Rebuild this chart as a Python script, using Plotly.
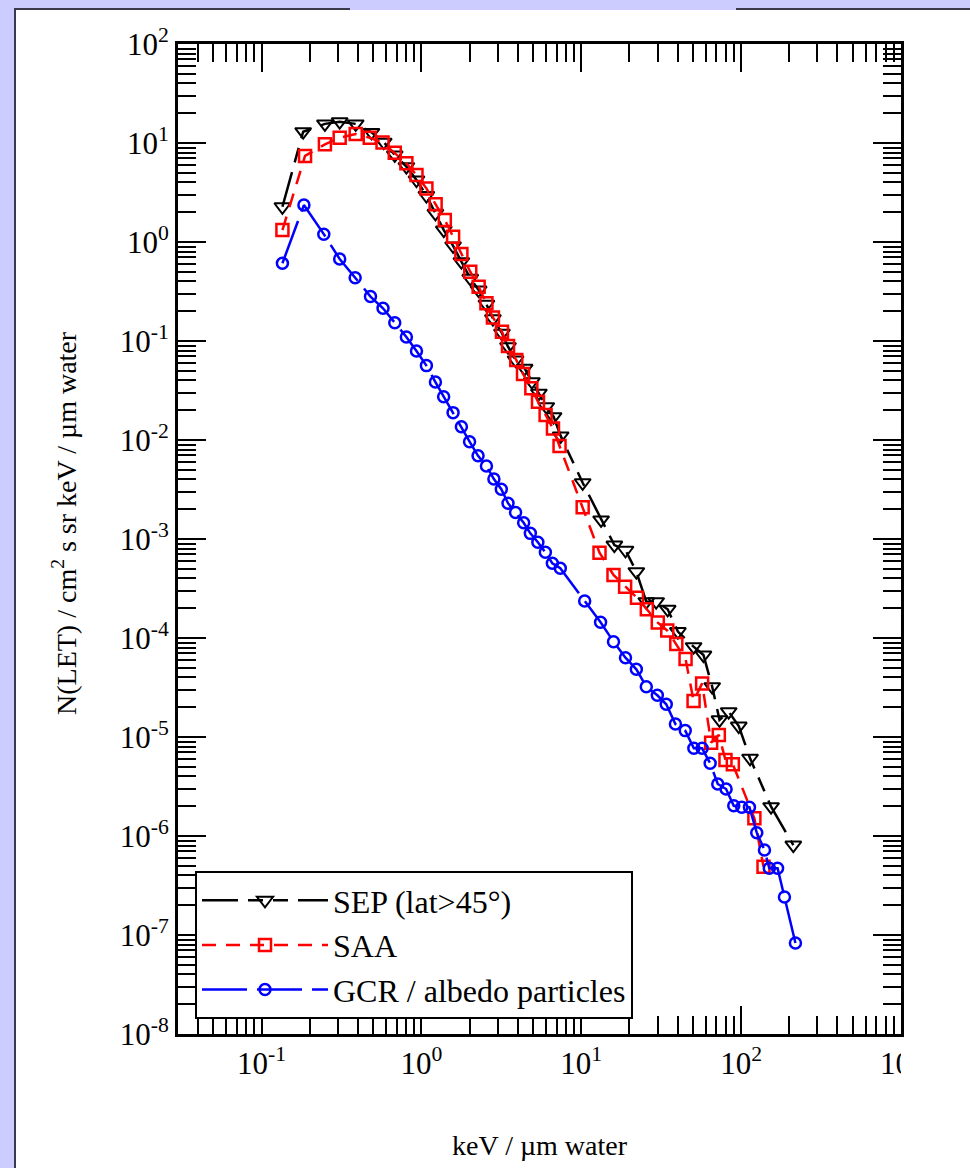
import plotly.graph_objects as go

# ---------------- data ----------------
sep_x = [0.135, 0.182, 0.249, 0.308, 0.388, 0.487, 0.581, 0.681, 0.805, 0.931,
         1.074, 1.223, 1.38, 1.578, 1.778, 2.02, 2.28, 2.55, 2.80, 3.19,
         3.48, 3.88, 4.42, 4.91, 5.43, 6.04, 6.71, 7.43, 10.2, 13.3,
         16.1, 18.9, 22.1, 25.5, 29.4, 34.7, 40.2, 50.4, 58.1, 65.9,
         73.2, 83.6, 96.6, 113.7, 153.9, 212.0]
sep_y = [2.27, 13.0, 15.6, 16.4, 15.6, 12.8, 10.2, 7.57, 5.77, 4.23,
         2.95, 1.95, 1.32, 0.912, 0.632, 0.43, 0.327, 0.235, 0.168, 0.12,
         0.0877, 0.0643, 0.053, 0.0388, 0.0297, 0.0217, 0.0172, 0.011, 0.0037, 0.00156,
         8.69e-4, 7.7e-4, 4.68e-4, 2.33e-4, 2.33e-4, 1.95e-4, 1.16e-4, 8.17e-5, 6.73e-5, 3.22e-5,
         1.49e-5, 1.80e-5, 1.29e-5, 6.1e-6, 1.98e-6, 8.1e-7]

saa_x = [0.135, 0.187, 0.249, 0.308, 0.388, 0.475, 0.571, 0.681, 0.805, 0.931,
         1.074, 1.227, 1.40, 1.578, 1.778, 2.02, 2.28, 2.55, 2.80, 3.19,
         3.48, 3.92, 4.32, 4.87, 5.36, 5.98, 6.65, 7.31, 10.2, 13.0,
         15.9, 18.8, 22.3, 25.7, 30.1, 34.5, 39.3, 44.9, 50.4, 57.0,
         64.9, 72.5, 79.8, 88.7, 121.0, 138.0]
saa_y = [1.32, 7.40, 9.70, 11.3, 12.3, 11.3, 10.1, 7.98, 6.24, 4.75,
         3.48, 2.40, 1.67, 1.13, 0.757, 0.501, 0.353, 0.240, 0.173, 0.124,
         0.0891, 0.0643, 0.0464, 0.0333, 0.0244, 0.0179, 0.0131, 0.00869, 0.00209, 7.28e-4,
         4.33e-4, 3.3e-4, 2.55e-4, 1.95e-4, 1.43e-4, 1.19e-4, 8.69e-5, 6.14e-5, 2.31e-5, 3.48e-5,
         8.77e-6, 1.05e-5, 5.86e-6, 5.3e-6, 1.51e-6, 4.9e-7]

gcr_x = [0.135, 0.184, 0.245, 0.308, 0.385, 0.48, 0.575, 0.681, 0.805, 0.931,
         1.074, 1.223, 1.377, 1.577, 1.778, 2.0, 2.26, 2.55, 2.84, 3.16,
         3.48, 3.88, 4.36, 4.80, 5.35, 5.96, 6.59, 7.39, 10.5, 13.2,
         15.9, 18.9, 22.1, 25.5, 29.9, 34.0, 38.8, 44.7, 50.6, 57.0,
         64.0, 71.4, 80.5, 89.9, 100.9, 112.7, 125.2, 139.9, 150.0, 169.0,
         186.6, 218.6]
gcr_y = [0.61, 2.36, 1.20, 0.673, 0.436, 0.281, 0.214, 0.153, 0.110, 0.0793,
         0.0564, 0.0385, 0.0274, 0.0189, 0.0136, 0.00962, 0.00693, 0.00546, 0.00403, 0.00318,
         0.0023, 0.00185, 0.00146, 0.00114, 9.27e-4, 7.34e-4, 5.68e-4, 5.06e-4, 2.37e-4, 1.44e-4,
         9.18e-5, 6.33e-5, 4.83e-5, 3.22e-5, 2.64e-5, 2.14e-5, 1.35e-5, 1.16e-5, 7.69e-6, 7.69e-6,
         5.42e-6, 3.35e-6, 2.98e-6, 2.02e-6, 1.95e-6, 1.95e-6, 1.08e-6, 7.23e-7, 4.72e-7, 4.72e-7,
         2.42e-7, 8.3e-8]

series_names = ["SEP (lat>45°)", "SAA", "GCR / albedo particles"]
x_title = "keV / µm water"
y_title = "N(LET) / cm<sup>2</sup> s sr keV / µm water"

x_tick_vals = [0.1, 1, 10, 100, 1000]
x_tick_text = ["10<sup>-1</sup>", "10<sup>0</sup>", "10<sup>1</sup>", "10<sup>2</sup>", "10<sup>3</sup>"]
y_tick_vals = [1e-8, 1e-7, 1e-6, 1e-5, 1e-4, 1e-3, 1e-2, 1e-1, 1, 10, 100]
y_tick_text = ["10<sup>-8</sup>", "10<sup>-7</sup>", "10<sup>-6</sup>", "10<sup>-5</sup>",
               "10<sup>-4</sup>", "10<sup>-3</sup>", "10<sup>-2</sup>", "10<sup>-1</sup>",
               "10<sup>0</sup>", "10<sup>1</sup>", "10<sup>2</sup>"]

x_minor = [m * 10.0 ** k for k in range(-2, 3) for m in range(2, 10)]
y_minor = [m * 10.0 ** k for k in range(-8, 2) for m in range(2, 10)]

# ---------------- layout geometry ----------------
W, H = 970, 1168
L, R, T, B = 178, 69, 44, 134
PW, PH = W - L - R, H - T - B


def fx(px):
    return (px - L) / PW


def fy(py):
    return (H - B - py) / PH


FONT = "Liberation Serif"

fig = go.Figure()

fig.add_trace(go.Scatter(
    x=sep_x, y=sep_y, name=series_names[0], mode="lines+markers",
    line=dict(color="#000000", width=2.5, dash="36px,10px,15px,10px,15px,10px"),
    marker=dict(symbol="triangle-down-open", size=14, color="#000000", line=dict(width=2)),
))
fig.add_trace(go.Scatter(
    x=saa_x, y=saa_y, name=series_names[1], mode="lines+markers",
    line=dict(color="#ff0000", width=2.5, dash="14px,10px"),
    marker=dict(symbol="square-open", size=12, color="#ff0000", line=dict(width=2.5)),
))
fig.add_trace(go.Scatter(
    x=gcr_x, y=gcr_y, name=series_names[2], mode="lines+markers",
    line=dict(color="#0000ff", width=2.5, dash="45px,10px"),
    marker=dict(symbol="circle-open", size=11, color="#0000ff", line=dict(width=2.5)),
))

axis_common = dict(
    showgrid=False, zeroline=False,
    showline=True, linecolor="#000000", linewidth=3, mirror="allticks",
    ticks="inside", ticklen=28, tickwidth=2, tickcolor="#000000",
    tickfont=dict(family=FONT, size=31, color="#000000"),
)

fig.update_xaxes(
    type="log", range=[-1.5229, 3],
    tickmode="array", tickvals=x_tick_vals, ticktext=x_tick_text,
    minor=dict(tickmode="array", tickvals=x_minor, ticks="inside", ticklen=18,
               tickwidth=2, tickcolor="#000000", showgrid=False),
    **axis_common,
)
fig.update_yaxes(
    type="log", range=[-8, 2],
    tickmode="array", tickvals=y_tick_vals, ticktext=y_tick_text,
    minor=dict(tickmode="array", tickvals=y_minor, ticks="inside", ticklen=18,
               tickwidth=2, tickcolor="#000000", showgrid=False),
    **axis_common,
)

shapes = [
    # white panel on the lavender page
    dict(type="rect", xref="paper", yref="paper", layer="below",
         x0=fx(16), x1=fx(972), y0=fy(10), y1=fy(1170),
         fillcolor="#ffffff", line=dict(width=0)),
    # dark frame lines of the panel
    dict(type="line", xref="paper", yref="paper", layer="below",
         x0=fx(15), x1=fx(15), y0=fy(9), y1=fy(1170),
         line=dict(color="#3a3a4a", width=2)),
    dict(type="line", xref="paper", yref="paper", layer="below",
         x0=fx(14), x1=fx(350), y0=fy(9), y1=fy(9),
         line=dict(color="#3a3a4a", width=2)),
    dict(type="line", xref="paper", yref="paper", layer="below",
         x0=fx(736), x1=fx(972), y0=fy(9), y1=fy(9),
         line=dict(color="#3a3a4a", width=2)),
    # clip of the last x tick label at the right edge of the frame
    dict(type="rect", xref="paper", yref="paper", layer="above",
         x0=fx(901), x1=fx(975), y0=fy(1100), y1=fy(1042),
         fillcolor="#ffffff", line=dict(width=0)),
]

annotations = [
    dict(text=x_title, xref="paper", yref="paper", x=fx(540), y=fy(1145),
         xanchor="center", yanchor="middle", showarrow=False,
         font=dict(family=FONT, size=28, color="#000000")),
    dict(text=y_title, xref="paper", yref="paper", x=fx(64), y=fy(523),
         xanchor="center", yanchor="middle", showarrow=False, textangle=-90,
         font=dict(family=FONT, size=28, color="#000000")),
]

fig.update_layout(
    width=W, height=H,
    margin=dict(l=L, r=R, t=T, b=B, autoexpand=False),
    paper_bgcolor="#ccccff", plot_bgcolor="#ffffff",
    font=dict(family=FONT, color="#000000"),
    showlegend=True,
    legend=dict(
        x=fx(195), y=fy(871), xanchor="left", yanchor="top",
        bgcolor="#ffffff", bordercolor="#000000", borderwidth=2,
        font=dict(family=FONT, size=32, color="#000000"),
        itemwidth=126, tracegroupgap=0,
    ),
    shapes=shapes,
    annotations=annotations,
)

fig.write_html("out.html")
